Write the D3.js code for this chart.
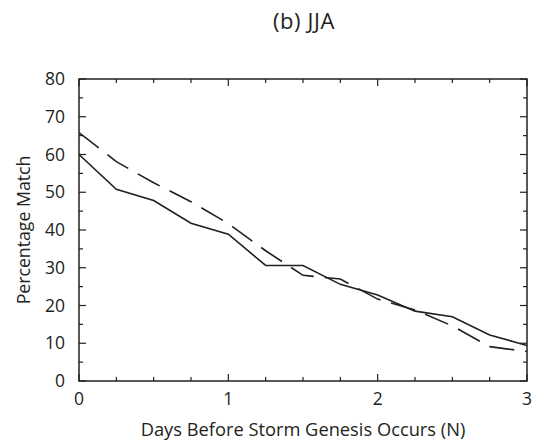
<!DOCTYPE html>
<html>
<head>
<meta charset="utf-8">
<script src="https://cdn.jsdelivr.net/npm/d3@7"></script>
<style>
  html, body { margin: 0; padding: 0; background: #fff; }
  svg { display: block; }
  text { font-family: "Open Sans", "Noto Sans", sans-serif; fill: #231f20; }
</style>
</head>
<body>
<svg id="chart" width="533" height="443"></svg>
<script>
// Days before genesis (N) sampled every quarter day
const days = [0, 0.25, 0.5, 0.75, 1, 1.25, 1.5, 1.75, 2, 2.25, 2.5, 2.75, 3];
// Percentage match, solid series
const solidMatch = [60, 50.8, 47.8, 41.8, 38.9, 30.6, 30.6, 25.6, 22.8, 18.5, 17.0, 12.2, 9.4];
// Percentage match, dashed series
const dashedMatch = [65.8, 58.1, 52.5, 47.5, 41.7, 34.5, 28.0, 27.0, 21.7, 18.8, 14.6, 9.1, 7.8];
const xMajorTicks = [0, 1, 2, 3];
const yMajorTicks = [0, 10, 20, 30, 40, 50, 60, 70, 80];

const title = "(b) JJA";
const xLabel = "Days Before Storm Genesis Occurs (N)";
const yLabel = "Percentage Match";

const svg = d3.select("#chart");
const margin = { left: 79, right: 6, top: 79, bottom: 62 };
const W = 533, H = 443;

const x = d3.scaleLinear().domain([0, 3]).range([margin.left, W - margin.right]);
const y = d3.scaleLinear().domain([0, 80]).range([H - margin.bottom, margin.top]);

const axisColor = "#231f20";
const x0 = x.range()[0], x1 = x.range()[1];
const y0 = y.range()[0], y1 = y.range()[1];

// Frame
svg.append("rect")
  .attr("x", x0).attr("y", y1)
  .attr("width", x1 - x0).attr("height", y0 - y1)
  .attr("fill", "none").attr("stroke", axisColor).attr("stroke-width", 1.5);

// Inward ticks on all four sides
const xMinor = d3.range(0, 3.001, 0.25);
const yMinor = d3.range(0, 80.001, 5);
const majorLen = 7, minorLen = 4;
const isXMajor = v => xMajorTicks.some(t => Math.abs(t - v) < 1e-6);
const isYMajor = v => yMajorTicks.some(t => Math.abs(t - v) < 1e-6);

const ticks = svg.append("g").attr("stroke", axisColor).attr("stroke-width", 1.2);
xMinor.forEach(v => {
  const len = isXMajor(v) ? majorLen : minorLen;
  ticks.append("line").attr("x1", x(v)).attr("x2", x(v)).attr("y1", y0).attr("y2", y0 - len);
  ticks.append("line").attr("x1", x(v)).attr("x2", x(v)).attr("y1", y1).attr("y2", y1 + len);
});
yMinor.forEach(v => {
  const len = isYMajor(v) ? majorLen : minorLen;
  ticks.append("line").attr("y1", y(v)).attr("y2", y(v)).attr("x1", x0).attr("x2", x0 + len);
  ticks.append("line").attr("y1", y(v)).attr("y2", y(v)).attr("x1", x1).attr("x2", x1 - len);
});

// Tick labels
svg.append("g").selectAll("text").data(xMajorTicks).join("text")
  .attr("x", d => x(d)).attr("y", y0 + 24)
  .attr("text-anchor", "middle").attr("font-size", 17.5)
  .text(d => d);
svg.append("g").selectAll("text").data(yMajorTicks).join("text")
  .attr("x", x0 - 14).attr("y", d => y(d)).attr("dy", "0.35em")
  .attr("text-anchor", "end").attr("font-size", 17.5)
  .text(d => d);

// Axis titles
svg.append("text")
  .attr("x", (x0 + x1) / 2).attr("y", y0 + 55)
  .attr("text-anchor", "middle").attr("font-size", 18.3)
  .text(xLabel);
svg.append("text")
  .attr("transform", `translate(30,${(y0 + y1) / 2}) rotate(-90)`)
  .attr("text-anchor", "middle").attr("font-size", 17.7)
  .text(yLabel);

// Chart title
svg.append("text")
  .attr("x", (x0 + x1) / 2 + 1).attr("y", 28.5)
  .attr("text-anchor", "middle").attr("font-size", 22)
  .attr("letter-spacing", 0.6)
  .text(title);

// Series lines
const line = d3.line().x(d => x(d[0])).y(d => y(d[1]));
svg.append("clipPath").attr("id", "plot-clip")
  .append("rect").attr("x", x0).attr("y", y1).attr("width", x1 - x0).attr("height", y0 - y1);

svg.append("path")
  .datum(days.map((d, i) => [d, dashedMatch[i]]))
  .attr("clip-path", "url(#plot-clip)")
  .attr("d", line)
  .attr("fill", "none").attr("stroke", "#231f20").attr("stroke-width", 1.6)
  .attr("stroke-dasharray", "25,11");

svg.append("path")
  .datum(days.map((d, i) => [d, solidMatch[i]]))
  .attr("clip-path", "url(#plot-clip)")
  .attr("d", line)
  .attr("fill", "none").attr("stroke", "#231f20").attr("stroke-width", 1.6);
</script>
</body>
</html>
